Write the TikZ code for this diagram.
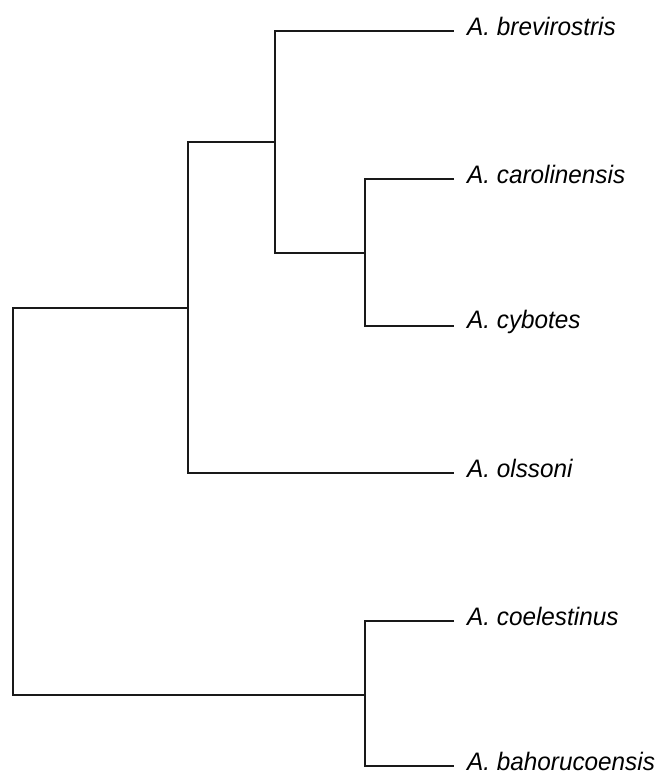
\documentclass[tikz,border=0pt]{standalone}
\usepackage{fontspec}
\setmainfont{Liberation Sans}
\newcommand{\tiptext}[1]{\scalebox{1}[1.04]{#1}}
\begin{document}
\begin{tikzpicture}[x=1pt,y=-1pt,
  branch/.style={line width=1.4pt,draw=black!90},
  tiplabel/.style={anchor=west,inner sep=0pt,font=\fontsize{24.3}{29}\selectfont\itshape}]
\useasboundingbox (0,0) rectangle (658,775);
% internal nodes
\coordinate (root) at (13,308);
\coordinate (rootb) at (13,695);
\coordinate (nA) at (188,308);
\coordinate (nAt) at (188,142);
\coordinate (nAb) at (188,473);
\coordinate (nB) at (275,142);
\coordinate (nBt) at (275,31);
\coordinate (nBb) at (275,253);
\coordinate (nC) at (365,253);
\coordinate (nCt) at (365,179);
\coordinate (nCb) at (365,326);
\coordinate (nD) at (365,695);
\coordinate (nDt) at (365,621);
\coordinate (nDb) at (365,766);
% tips
\coordinate (t1) at (454,31);
\coordinate (t2) at (454,179);
\coordinate (t3) at (454,326);
\coordinate (t4) at (454,473);
\coordinate (t5) at (454,621);
\coordinate (t6) at (454,766);
% labels
\node[tiplabel] (l1) at (467,26.5) {\tiptext{A. brevirostris}};
\node[tiplabel] (l2) at (467,174.5) {\tiptext{A. carolinensis}};
\node[tiplabel] (l3) at (467,321.5) {\tiptext{A. cybotes}};
\node[tiplabel] (l4) at (467,468.5) {\tiptext{A. olssoni}};
\node[tiplabel] (l5) at (467,616.5) {\tiptext{A. coelestinus}};
\node[tiplabel] (l6) at (467,761.5) {\tiptext{A. bahorucoensis}};
% branches
\draw[branch] (nA) -- (root) -- (rootb) -- (nD);
\draw[branch] (nC) -- (nBb) -- (nBt) -- (t1);
\draw[branch] (nB) -- (nAt) -- (nAb) -- (t4);
\draw[branch] (t2) -- (nCt) -- (nCb) -- (t3);
\draw[branch] (t5) -- (nDt) -- (nDb) -- (t6);
\end{tikzpicture}
\end{document}
